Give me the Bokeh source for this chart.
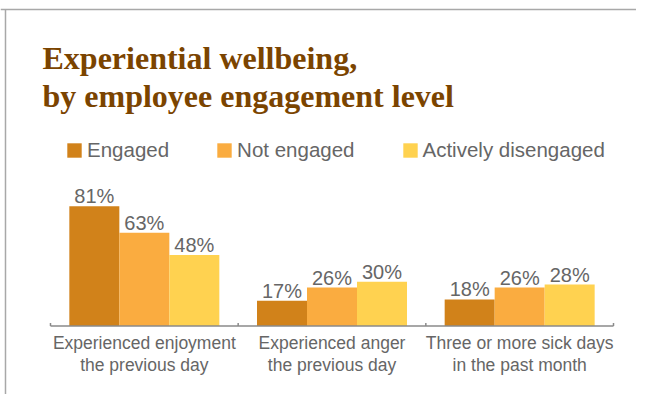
from bokeh.plotting import figure
from bokeh.models import Range1d, Label, Legend, LegendItem, ColumnDataSource
from bokeh.core.properties import value
from bokeh.transform import dodge
from bokeh.embed import file_html
from bokeh.resources import INLINE

# ---- data ----
categories = [
    "Experienced enjoyment\nthe previous day",
    "Experienced anger\nthe previous day",
    "Three or more sick days\nin the past month",
]
series = ["Engaged", "Not engaged", "Actively disengaged"]
engaged = [81, 17, 18]
not_engaged = [63, 26, 26]
actively_disengaged = [48, 30, 28]
colors = ["#D1821A", "#FAAC40", "#FFD250"]

title_lines = ["Experiential wellbeing,", "by employee engagement level"]

# ---- layout constants ----
W, H = 636, 394
PX_X = 187.67   # pixels per category band
PX_Y = 1.479    # pixels per percentage point
LEFT_PX, RIGHT_PX = 50, 23
BASE_PX = 325.5  # baseline distance from top of figure

n = len(categories)
x_start = -LEFT_PX / PX_X
x_end = n + RIGHT_PX / PX_X
y_start = -(H - BASE_PX) / PX_Y
y_end = BASE_PX / PX_Y

p = figure(width=W, height=H, title=None,
           x_range=Range1d(x_start, x_end), y_range=Range1d(y_start, y_end),
           x_axis_location=None, y_axis_location=None,
           output_backend="svg", toolbar_location=None,
           min_border=0, min_border_left=0, min_border_right=0,
           min_border_top=0, min_border_bottom=0,
           outline_line_color=None, background_fill_color="white",
           border_fill_color="white")
p.grid.visible = False

GRAY = "#666666"
FONT = value("Liberation Sans")

line1 = [c.split("\n")[0] for c in categories]
line2 = [c.split("\n")[1] for c in categories]
xc = [i + 0.5 for i in range(n)]
vals = [engaged, not_engaged, actively_disengaged]
data = dict(x=xc, line1=line1, line2=line2)
keys = ["engaged", "not_engaged", "actively_disengaged"]
for k, v in zip(keys, vals):
    data[k] = v
    data[k + "_lbl"] = [f"{a}%" for a in v]
src = ColumnDataSource(data)

bw = 50 / PX_X
renderers = []
for i, (k, color) in enumerate(zip(keys, colors)):
    off = (i - 1) * bw
    r = p.vbar(x=dodge("x", off), top=k, bottom=0, width=bw, fill_color=color,
               line_color=None, source=src)
    renderers.append(r)
    p.text(x=dodge("x", off), y=k, text=k + "_lbl", source=src,
           text_font=FONT, text_font_size="20px", text_color=GRAY,
           text_align="center", text_baseline="alphabetic", y_offset=-10)

# axis line with inward ticks at band boundaries
p.segment(x0=0, y0=0, x1=n, y1=0, line_color="#8A8A8A", line_width=1.5)
bounds = list(range(n + 1))
p.segment(x0=bounds, y0=[0] * len(bounds), x1=bounds, y1=[3 / PX_Y] * len(bounds),
          line_color="#8A8A8A", line_width=1.5)

# category labels
p.text(x="x", y=0, text="line1", source=src, text_font=FONT, text_font_size="17.5px",
       text_color=GRAY, text_align="center", text_baseline="alphabetic", y_offset=17)
p.text(x="x", y=0, text="line2", source=src, text_font=FONT, text_font_size="17.5px",
       text_color=GRAY, text_align="center", text_baseline="alphabetic", y_offset=39)

# border (top and left)
p.segment(x0=x_start, y0=y_end - 9 / PX_Y, x1=x_end, y1=y_end - 9 / PX_Y,
          line_color="#A8A8A8", line_width=1.5)
p.segment(x0=x_start + 5 / PX_X, y0=y_start, x1=x_start + 5 / PX_X, y1=y_end - 9 / PX_Y,
          line_color="#A8A8A8", line_width=1.5)

# title
for txt, yb in zip(title_lines, [336.5, 298.5]):
    p.add_layout(Label(x=42, y=yb, x_units="screen", y_units="screen", text=txt,
                       text_font="Liberation Serif", text_font_style="bold",
                       text_font_size="32px", text_color="#7B4400",
                       text_baseline="alphabetic"))

legend = Legend(items=[LegendItem(label=s, renderers=[r]) for s, r in zip(series, renderers)],
                orientation="horizontal", location=(65, 232),
                glyph_width=18, glyph_height=18, label_height=18, label_standoff=4,
                spacing=46, padding=0, margin=0, border_line_color=None,
                background_fill_alpha=0, label_text_font="Liberation Sans",
                label_text_font_size="20.5px", label_text_color=GRAY)
p.add_layout(legend)

open("out.html", "w").write(file_html(p, INLINE))
